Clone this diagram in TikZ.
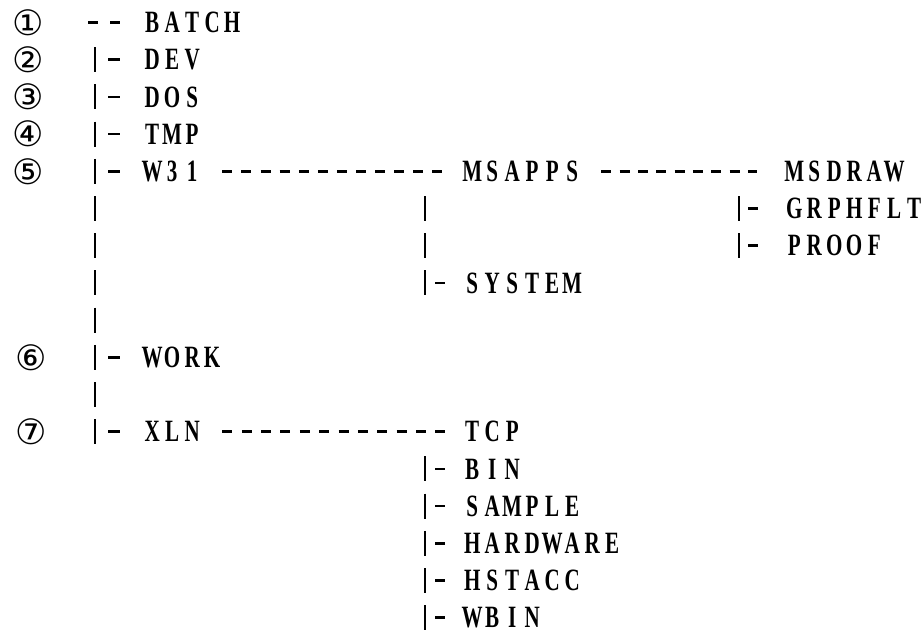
\documentclass[tikz,border=0pt]{standalone}
\usepackage{fontspec}
\setmainfont{Liberation Serif}
\newfontfamily\dotfont[FakeStretch=0.68]{Liberation Serif}
\newfontfamily\circfont{DejaVu Sans}
\newlength\charpitch
\setlength\charpitch{20pt}
\def\spreadchars#1{\ifx#1\relax\else\makebox[\charpitch][c]{#1}\expandafter\spreadchars\fi}
\newcommand\dirname[1]{\spreadchars#1\relax}
\newcommand\dirfont{\fontsize{31pt}{31pt}\selectfont\dotfont\bfseries}
\newcommand\numfont{\fontsize{35pt}{35pt}\selectfont\circfont}
\begin{document}
\begin{tikzpicture}[x=1pt,y=-1pt,
  dir/.style={anchor=west, inner sep=0pt, font=\dirfont},
  num/.style={inner sep=0pt, font=\numfont},
  bar/.style={line width=2.8pt},
  tick/.style={line width=2.5pt},
  link/.style={line width=2.5pt, dash pattern=on 10pt off 8.5pt}]
\useasboundingbox (0,0) rectangle (922,640);
\def\rs{37.2}
\def\ry#1{{22.5+\rs*#1}}

% circled numbers
\node[num] (n1) at (28,\ry{0}) {①};
\node[num] (n2) at (28,\ry{1}) {②};
\node[num] (n3) at (28,\ry{2}) {③};
\node[num] (n4) at (28,\ry{3}) {④};
\node[num] (n5) at (28,\ry{4}) {⑤};
\node[num] (n6) at (31,\ry{9}) {⑥};
\node[num] (n7) at (31,\ry{11}) {⑦};

% first level
\node[dir] (batch) at (142,\ry{0}) {\dirname{BATCH}};
\node[dir] (dev) at (142,\ry{1}) {\dirname{DEV}};
\node[dir] (dos) at (142,\ry{2}) {\dirname{DOS}};
\node[dir] (tmp) at (142,\ry{3}) {\dirname{TMP}};
\node[dir] (w31) at (142,\ry{4}) {\dirname{W31}};
\node[dir] (work) at (142,\ry{9}) {\dirname{WORK}};
\node[dir] (xln) at (142,\ry{11}) {\dirname{XLN}};

% second level
\node[dir] (msapps) at (462,\ry{4}) {\dirname{MSAPPS}};
\node[dir] (system) at (462,\ry{7}) {\dirname{SYSTEM}};
\node[dir] (tcp) at (462,\ry{11}) {\dirname{TCP}};
\node[dir] (bin) at (462,\ry{12}) {\dirname{BIN}};
\node[dir] (sample) at (462,\ry{13}) {\dirname{SAMPLE}};
\node[dir] (hardware) at (462,\ry{14}) {\dirname{HARDWARE}};
\node[dir] (hstacc) at (462,\ry{15}) {\dirname{HSTACC}};
\node[dir] (wbin) at (462,\ry{16}) {\dirname{WBIN}};

% third level
\node[dir] (msdraw) at (784,\ry{4}) {\dirname{MSDRAW}};
\node[dir] (grphflt) at (784,\ry{5}) {\dirname{GRPHFLT}};
\node[dir] (proof) at (784,\ry{6}) {\dirname{PROOF}};

% "--" before BATCH
\draw[link, dash pattern=on 10pt off 12pt] ([xshift=-54pt]batch.west) -- ([xshift=-22pt]batch.west);

% main trunk branches
\foreach \n in {dev,dos,tmp,w31,work,xln} {
  \draw[bar] ([shift={(-47,-12.5)}]\n.west) -- ([shift={(-47,12.5)}]\n.west);
  \draw[tick] ([xshift=-34pt]\n.west) -- ([xshift=-22pt]\n.west);
}
% main trunk continuation bars
\coordinate (m1) at (95,\ry{5});
\coordinate (m2) at (95,\ry{6});
\coordinate (m3) at (95,\ry{7});
\coordinate (m4) at (95,\ry{8});
\coordinate (m5) at (95,\ry{10});
% MSAPPS continuation bars
\coordinate (s1) at (425,\ry{5});
\coordinate (s2) at (425,\ry{6});
\foreach \c in {m1,m2,m3,m4,m5,s1,s2} {
  \draw[bar] ([yshift=12.5pt]\c) -- ([yshift=-12.5pt]\c);
}

% second level branches
\foreach \n in {system,bin,sample,hardware,hstacc,wbin} {
  \draw[bar] ([shift={(-37,-12.5)}]\n.west) -- ([shift={(-37,12.5)}]\n.west);
  \draw[tick] ([xshift=-27pt]\n.west) -- ([xshift=-17pt]\n.west);
}
% third level branches
\foreach \n in {grphflt,proof} {
  \draw[bar] ([shift={(-45,-12.5)}]\n.west) -- ([shift={(-45,12.5)}]\n.west);
  \draw[tick] ([xshift=-36pt]\n.west) -- ([xshift=-26pt]\n.west);
}

% long dashed links (12, 9 and 12 dashes)
\draw[link, dash pattern=on 10pt off 9.09pt] ([xshift=20pt]w31.east) -- ([xshift=-20pt]msapps.west);
\draw[link, dash pattern=on 10pt off 8.3pt] ([xshift=19pt]msapps.east) -- ([xshift=-27pt]msdraw.west);
\draw[link, dash pattern=on 10pt off 9.36pt] ([xshift=20pt]xln.east) -- ([xshift=-17pt]tcp.west);
\end{tikzpicture}
\end{document}
